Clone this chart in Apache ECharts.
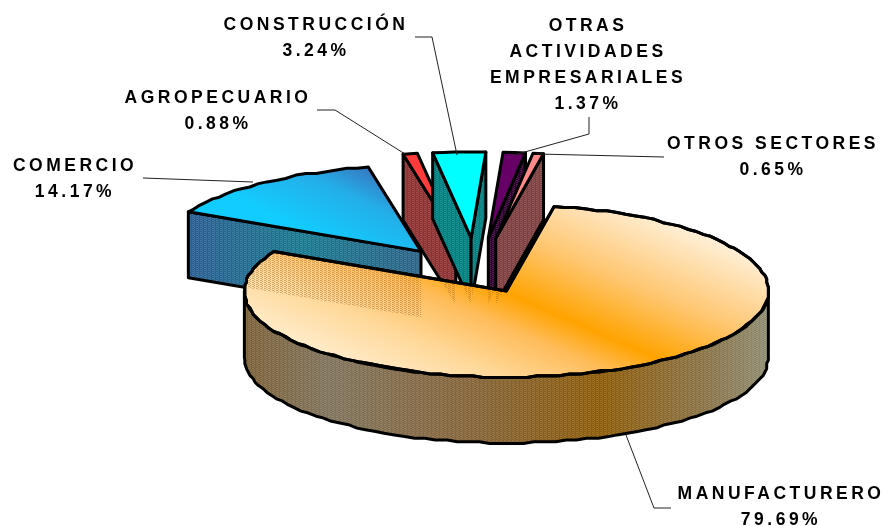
<!DOCTYPE html>
<html><head><meta charset="utf-8">
<style>html,body{margin:0;padding:0;background:#fff}#c{width:889px;height:526px}</style>
<script src="https://cdn.jsdelivr.net/npm/echarts@6/dist/echarts.min.js"></script>
</head><body><div id="c"></div>
<script>
// ---- data ----
const sectors = ['MANUFACTURERO','COMERCIO','AGROPECUARIO','CONSTRUCCIÓN','OTRAS\nACTIVIDADES\nEMPRESARIALES','OTROS SECTORES'];
const shares  = [79.69, 14.17, 0.88, 3.24, 1.37, 0.65];
// ---- presentation ----
const explode = [68, 92, 119, 119, 119, 119];
const paintOrder = [1, 2, 3, 4, 5, 0];
const labelAt = [[781,481],[75,153],[218,85],[316,12],[588,13],[773,131]];
const leaders = [
  [[626,435],[654,508],[671,508]],
  [[143,178],[253,182]],
  [[317,110],[335,110],[405,154]],
  [[415,37],[432,37],[457,155]],
  [[589,117],[589,134],[514,155]],
  [[664,157],[537,154]]
];
const LG = (x,y,x2,y2,st)=>new echarts.graphic.LinearGradient(x,y,x2,y2,st.map((c,i)=>({offset:c[0],color:c[1]})),true);
const topFill = [
  LG(482,425,586,185,[[0,'#ffeccc'],[0.2,'#ffd898'],[0.38,'#ffbc5a'],[0.5,'#ffa300'],[0.72,'#ffc670'],[1,'#ffefd6']]),
  LG(375,160,335,245,[[0,'#3d68b4'],[0.45,'#24aee8'],[1,'#12ccff']]),
  '#ff3b3b','#00ffff','#660066','#ff8a8a'
];
const sideFill = [
  LG(245,0,769,0,[[0,'#7d6238'],[0.16,'#80745c'],[0.45,'#866436'],[0.68,'#8e5c08'],[0.88,'#8a7448'],[1,'#8f8d72']]),
  LG(189,0,420,0,[[0,'#2a5e92'],[0.5,'#187a90'],[1,'#2c6488']]),
  '#8e3232','#008080','#330033','#804040'
];
const C = {x:476.5, y:273, s:0.295, rx:262, ry:86, depth:66, start:10.5, snap:1.7};

function stipple(color){
  const c=document.createElement('canvas');c.width=4;c.height=2;
  const g=c.getContext('2d');g.fillStyle=color;g.fillRect(0,0,1,1);g.fillRect(2,1,1,1);g.fillRect(1,0,1,1);
  return {image:c,repeat:'repeat'};
}
const sideDither = stipple('rgba(255,255,255,0.13)');
const ghostDither = stipple('rgba(140,84,20,0.36)');

const total = shares.reduce((a,b)=>a+b,0);
let acc = C.start;
const geo = shares.map((v,i)=>{
  const a0=acc, a1=acc+v/total*360; acc=a1;
  const b=(a0+a1)/2*Math.PI/180;
  return {a0,a1,ax:C.x+explode[i]*Math.sin(b),ay:C.y-explode[i]*Math.cos(b)*C.s};
});
const rim=(g,a)=>{const r=a*Math.PI/180;return [g.ax+C.rx*Math.sin(r),g.ay-C.ry*Math.cos(r)];};
const down=p=>[p[0],p[1]+C.depth];
const sn=v=>Math.round(v/C.snap)*C.snap;
function arc(g,a0,a1){
  const n=Math.max(1,Math.round((a1-a0)/2.4)),o=[];
  for(let k=0;k<=n;k++){
    const p=rim(g,a0+(a1-a0)*k/n);
    o.push(k===0||k===n||n<8?p:[sn(p[0]),sn(p[1])]);
  }
  return o;
}
function topPoly(g){return [[g.ax,g.ay],...arc(g,g.a0,g.a1)];}
function sidePolys(g){
  const out=[],ap=[g.ax,g.ay],sin=d=>Math.sin(d*Math.PI/180);
  const wall=a=>{const p=rim(g,a);return [ap,p,down(p),down(ap)];};
  if(sin(g.a0)<0) out.push(wall(g.a0));
  if(sin(g.a1)>0) out.push(wall(g.a1));
  const lo=Math.max(g.a0,90),hi=Math.min(g.a1,270);
  if(hi>lo){const t=arc(g,lo,hi);out.push([...t,...t.slice().reverse().map(down)]);}
  return out;
}
const poly=(pts,fill,extra)=>Object.assign({type:'polygon',shape:{points:pts},style:{fill,stroke:'#000',lineWidth:3,lineJoin:'round'},silent:true},extra||{});
const bare=(pts,fill,extra)=>Object.assign({type:'polygon',shape:{points:pts},style:{fill,stroke:null,lineWidth:0},silent:true},extra||{});

function renderSlice(params,api){
  const i=api.value(0),g=geo[i],children=[];
  sidePolys(g).forEach(p=>{
    children.push(bare(p,sideFill[i]));
    children.push(bare(p,sideDither));
    children.push(poly(p,'rgba(0,0,0,0)'));
  });
  const t=topPoly(g);
  children.push(poly(t,topFill[i]));
  if(i===0){
    geo.forEach((o,j)=>{
      if(j===0)return;
      sidePolys(o).forEach(p=>children.push(bare(p,ghostDither,{clipPath:{type:'polygon',shape:{points:t}}})));
    });
    children.push(poly(t,'rgba(0,0,0,0)'));
  }
  return {type:'group',children};
}
function renderLeader(params,api){
  return {type:'polyline',shape:{points:leaders[api.value(0)]},style:{fill:null,stroke:'#222',lineWidth:1},silent:true};
}
function renderLabel(params,api){
  const i=api.value(0);
  return {type:'text',silent:true,x:labelAt[i][0],y:labelAt[i][1],style:{
    text:sectors[i]+'\n'+shares[i].toFixed(2)+'%',
    fontFamily:'"Liberation Sans"',fontWeight:'bold',fontSize:17.5,lineHeight:26,
    fill:'#000',align:'center',verticalAlign:'top'}};
}
// wide tracking of the original labels
const ft=CanvasRenderingContext2D.prototype.fillText;
CanvasRenderingContext2D.prototype.fillText=function(){this.letterSpacing='3.5px';return ft.apply(this,arguments);};

const chart=echarts.init(document.getElementById('c'),null,{renderer:'canvas'});
const idx=sectors.map((_,i)=>[i]);
chart.setOption({
  animation:false,backgroundColor:'#fff',
  series:[
    {type:'custom',coordinateSystem:'none',renderItem:renderSlice,data:paintOrder.map(i=>[i]),z:2,silent:true},
    {type:'custom',coordinateSystem:'none',renderItem:renderLeader,data:idx,z:3,silent:true},
    {type:'custom',coordinateSystem:'none',renderItem:renderLabel,data:idx,z:4,silent:true}
  ]
});
</script></body></html>
